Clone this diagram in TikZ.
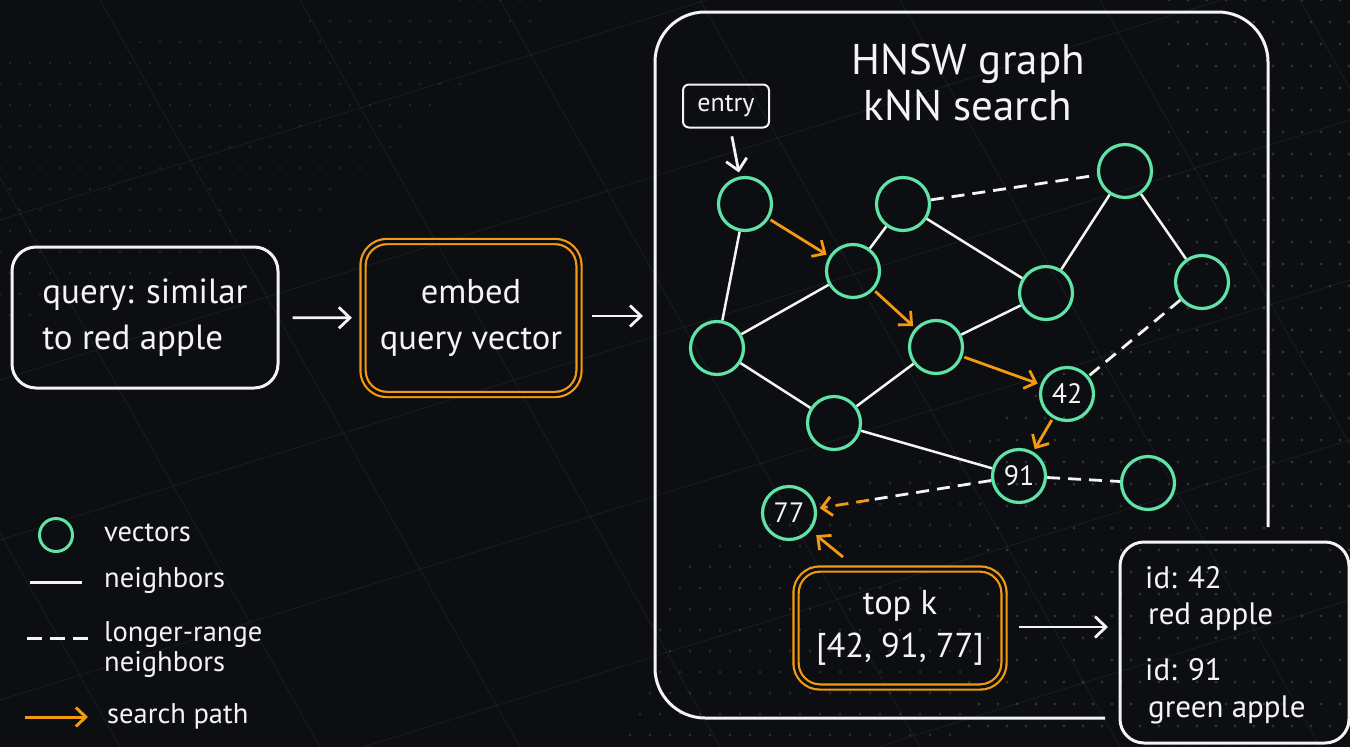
\documentclass[tikz,border=0pt]{standalone}
\usepackage{fontspec}
\setmainfont{PT Sans}
\usetikzlibrary{arrows.meta,calc}
\definecolor{bg}{HTML}{0C0E11}
\definecolor{mint}{HTML}{5FE3A6}
\definecolor{amber}{HTML}{F39A12}
\definecolor{chalk}{HTML}{F4F4F4}
\definecolor{gridgray}{HTML}{8A9099}
\begin{document}
\begin{tikzpicture}[x=1pt,y=-1pt,
  vec/.style={circle, draw=mint, line width=3.2pt, minimum size=53pt, inner sep=0pt,
    text=chalk, font=\fontsize{28}{28}\selectfont},
  nb/.style={draw=chalk, line width=2.5pt},
  lr/.style={draw=chalk, line width=2.8pt, dash pattern=on 13pt off 8pt},
  sp/.style={draw=amber, line width=2.8pt, -{Straight Barb[length=10pt,width=19pt]}},
  warr/.style={draw=chalk, line width=2.8pt, -{Straight Barb[length=11pt,width=21pt]}},
  wbox/.style={draw=chalk, line width=3pt, rounded corners=24pt, text=chalk, align=left,
    font=\fontsize{35}{46}\selectfont},
  obox/.style={draw=amber, line width=2.2pt, double=bg, double distance=3pt,
    rounded corners=24pt, text=chalk, align=center},
  txt/.style={text=chalk, inner sep=0pt},
  leg/.style={txt, anchor=west, align=left, font=\fontsize{28.5}{30}\selectfont},
  res/.style={txt, anchor=west, font=\fontsize{31}{31}\selectfont}
]
% canvas
\useasboundingbox (0,0) rectangle (1350,747);
\fill[bg] (0,0) rectangle (1350,747);

% faint perspective grid
\begin{scope}[draw=gridgray, line width=1pt, opacity=0.10]
  \foreach \y in {-200,-40,120,280,440,600,760} {
    \draw (0,\y+420) -- (1350,\y);
  }
  \foreach \x in {-300,-100,100,300,500,700,900,1100,1300,1500} {
    \draw (\x,0) -- (\x+420,747);
  }
\end{scope}

% dot fields
\begin{scope}
  \clip (1160,0) -- (1350,0) -- (1350,747) -- (960,747) -- (1000,420) -- (1160,300) -- cycle;
  \foreach \i in {0,...,20} {
    \foreach \j in {0,...,34} {
      \fill[gridgray, opacity=0.28] ({960+\i*19+mod(\j,2)*9},{\j*22}) circle (1.6pt);
    }
  }
\end{scope}
\begin{scope}
  \clip (680,560) -- (1000,420) -- (960,747) -- (620,747) -- cycle;
  \foreach \i in {0,...,20} {
    \foreach \j in {0,...,16} {
      \fill[gridgray, opacity=0.22] ({620+\i*20+mod(\j,2)*10},{420+\j*21}) circle (1.5pt);
    }
  }
\end{scope}
\begin{scope}
  \clip (0,60) -- (450,0) -- (560,0) -- (300,230) -- (0,330) -- cycle;
  \foreach \i in {0,...,28} {
    \foreach \j in {0,...,16} {
      \fill[gridgray, opacity=0.18] ({\i*20+mod(\j,2)*10},{\j*21}) circle (1.4pt);
    }
  }
\end{scope}

% query pipeline
\node[wbox, minimum width=266pt, minimum height=141pt] (q) at (145,317.5)
  {query: similar\\to red apple};
\node[obox, minimum width=216pt, minimum height=153pt, font=\fontsize{34.5}{46}\selectfont]
  (emb) at (471,318) {embed\\query vector};
\coordinate (gl) at (655,316);
\draw[warr, shorten <=13pt, shorten >=10pt] (q) -- (emb);
\draw[warr, shorten <=12pt, shorten >=12pt] (emb.east |- gl) -- (gl);

% HNSW frame
\draw[chalk, line width=3pt, rounded corners=50pt]
  (1268,527) -- (1268,12) -- (655,12) -- (655,718) -- (1105,718);
\node[txt, align=center, font=\fontsize{43}{46}\selectfont] (title) at (968,82)
  {HNSW graph\\kNN search};

% entry point
\node[draw=chalk, line width=2pt, rounded corners=6pt, minimum width=86pt,
  minimum height=43pt, text=chalk, font=\fontsize{26}{26}\selectfont] (entry) at (726,106) {entry};

% vectors
\node[vec] (n1)  at (745,204) {};
\node[vec] (n2)  at (903,204) {};
\node[vec] (n3)  at (1125,171) {};
\node[vec] (n4)  at (853,271) {};
\node[vec] (n5)  at (1046,293) {};
\node[vec] (n6)  at (1202,282) {};
\node[vec] (n7)  at (717,348) {};
\node[vec] (n8)  at (936,347) {};
\node[vec] (n42) at (1067,394) {42};
\node[vec] (n9)  at (834,423) {};
\node[vec] (n91) at (1019,476) {91};
\node[vec] (n10) at (1148,483) {};
\node[vec] (n77) at (789,513) {77};

\draw[warr, shorten <=8pt, shorten >=4pt] (entry) -- (n1);

% neighbors
\draw[nb] (n1) -- (n7);
\draw[nb] (n2) -- (n4);
\draw[nb] (n2) -- (n5);
\draw[nb] (n3) -- (n5);
\draw[nb] (n3) -- (n6);
\draw[nb] (n4) -- (n7);
\draw[nb] (n7) -- (n9);
\draw[nb] (n9) -- (n8);
\draw[nb] (n8) -- (n5);
\draw[nb] (n9) -- (n91);

% longer-range neighbors
\draw[lr] (n2) -- (n3);
\draw[lr] (n6) -- (n42);
\draw[lr] (n91) -- (n10);
\path (n77) -- (n91) coordinate[pos=0.30] (m77);
\draw[lr] (n91) -- (m77);
\draw[sp, dash pattern=on 13pt off 8pt, shorten >=3pt] (m77) -- (n77);

% search path
\draw[sp, shorten <=2pt, shorten >=3pt] (n1) -- (n4);
\draw[sp, shorten <=2pt, shorten >=3pt] (n4) -- (n8);
\draw[sp, shorten <=2pt, shorten >=3pt] (n8) -- (n42);
\draw[sp, shorten <=2pt, shorten >=3pt] (n42) -- (n91);

% top k result
\node[obox, minimum width=208pt, minimum height=118pt, font=\fontsize{34.5}{43}\selectfont]
  (tk) at (900,628) {top k\\{[}42, 91, 77{]}};
\coordinate (tka) at (843,557);
\draw[sp, shorten >=7pt] (tka) -- (n77);

% looked-up records
\draw[chalk, line width=3pt, rounded corners=24pt] (1120,542) rectangle (1349,743);
\coordinate (resw) at (1120,627);
\draw[warr, shorten <=14pt, shorten >=12pt] (tk.east |- resw) -- (resw);
\node[res] (r1) at (1145,578) {id: 42};
\node[res] (r2) at (1148,617) {red apple};
\node[res] (r3) at (1145,670) {id: 91};
\node[res] (r4) at (1148,710) {green apple};

% legend
\node[circle, draw=mint, line width=3pt, minimum size=33pt, inner sep=0pt] (lv) at (56,535) {};
\node[leg] (lt1) at (104,533) {vectors};
\coordinate (la1) at (30,582); \coordinate (lb1) at (82,582);
\draw[nb, line width=3pt] (la1) -- (lb1);
\node[leg] (lt2) at (104,580) {neighbors};
\coordinate (la2) at (27,638); \coordinate (lb2) at (88,638);
\draw[lr, line width=3pt, dash pattern=on 15pt off 8pt] (la2) -- (lb2);
\node[leg] (lt3) at (104,650) {longer-range\\neighbors};
\coordinate (la3) at (25,717); \coordinate (lb3) at (88,717);
\draw[sp, line width=3pt] (la3) -- (lb3);
\node[leg] (lt4) at (107,716) {search path};
\end{tikzpicture}
\end{document}
